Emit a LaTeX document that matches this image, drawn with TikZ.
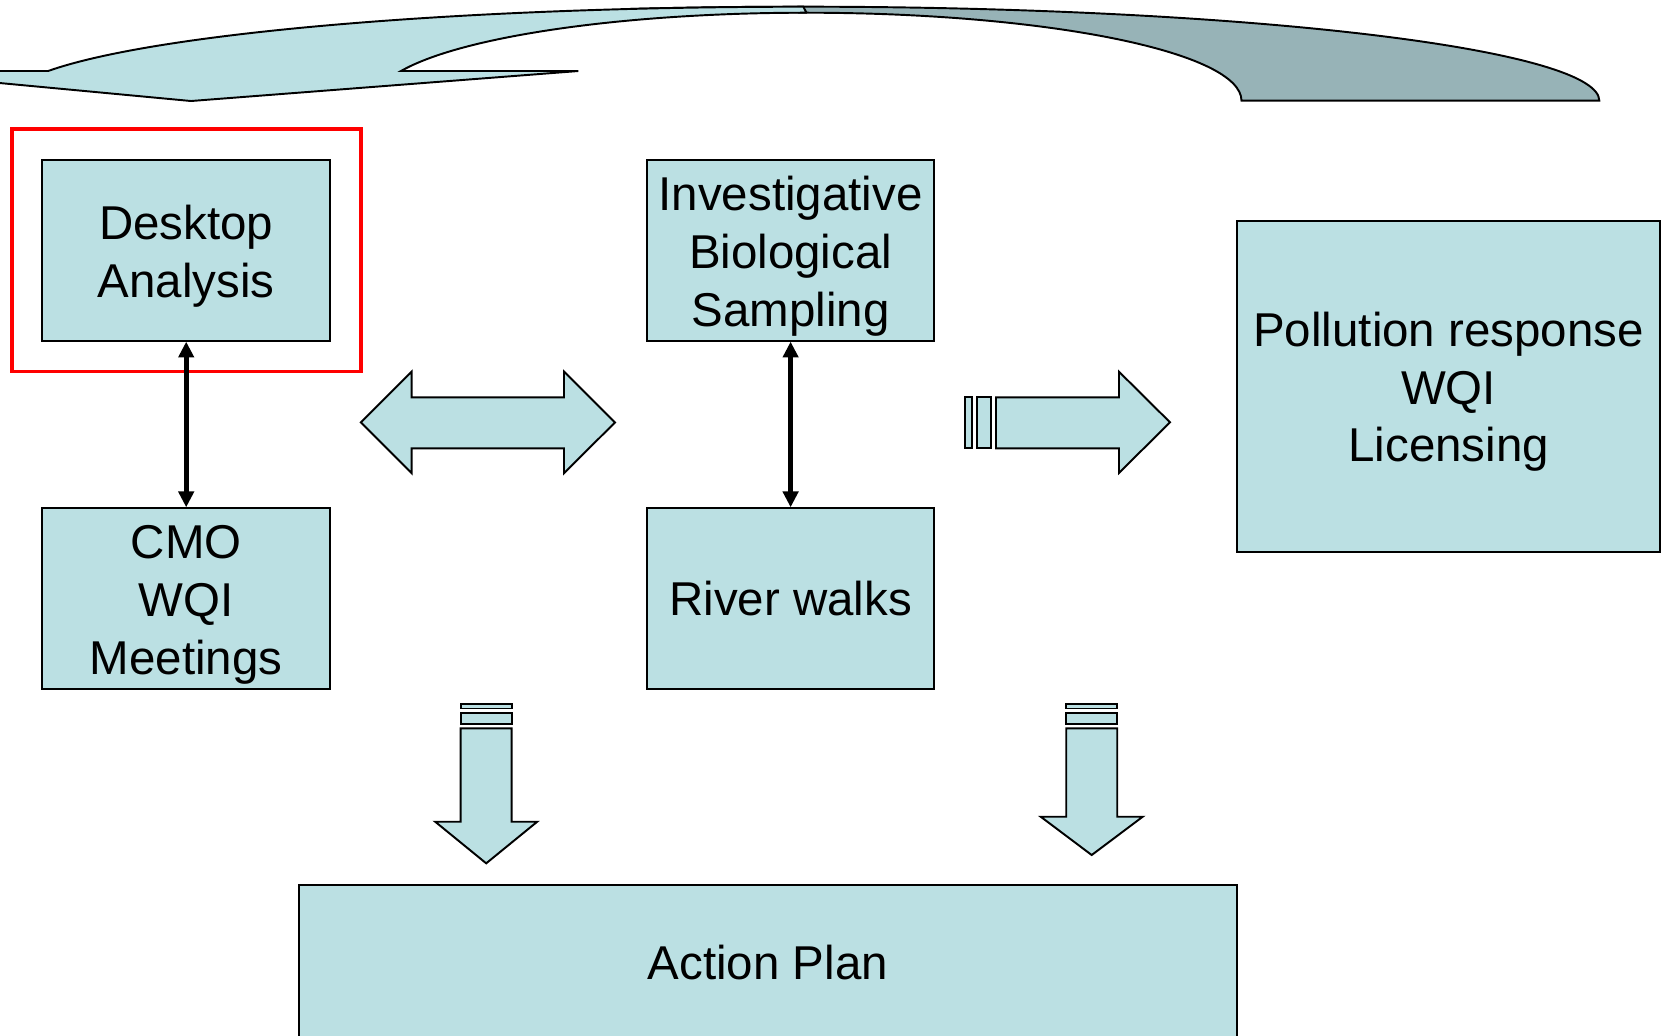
\documentclass[tikz,border=0pt]{standalone}
\usepackage{fontspec}
\setmainfont{Liberation Sans}
\usetikzlibrary{positioning}
\usetikzlibrary{arrows.meta}

\definecolor{paleblue}{HTML}{BBE0E3}
\definecolor{greyblue}{HTML}{97B3B7}

% extra room above the first line of a multi-line box
\newcommand{\padtop}{\rule{0pt}{13pt}}

\tikzset{
  box/.style={draw=black, line width=0.55pt, fill=paleblue, align=center, inner sep=0pt,
    minimum width=2.876cm, minimum height=1.804cm, font=\fontsize{13.5}{16.4}\selectfont},
  blockarrow/.style={draw=black, line width=0.55pt, fill=paleblue, line join=miter},
  link/.style={{Triangle[width=4.3pt,length=4.5pt]}-{Triangle[width=4.3pt,length=4.5pt]}, line width=1.5pt}
}

\begin{document}
\begin{tikzpicture}[x=0.01cm, y=-0.01cm]
 \useasboundingbox (0,0) rectangle (1664,1035);
 \clip (0,0) rectangle (1664,1035);

 % curved arrow on top, back half
 \draw[blockarrow, fill=greyblue] (631,8.9) arc[start angle=-102.5, end angle=0, x radius=796, y radius=94]
    -- (1241.5,100.7) arc[start angle=0, end angle=-90, x radius=435, y radius=88] -- cycle;
 % front half with the head
 \draw[blockarrow] (806.5,12.7) -- (803.3,6.7) arc[start angle=-90, end angle=-161.58, x radius=796, y radius=94]
    -- (-128,71) -- (191,101) -- (578.4,71) -- (401,71)
    arc[start angle=-160.28, end angle=-90, x radius=431, y radius=88] -- cycle;

 % boxes
 \node[draw=red, line width=1.1pt, minimum width=3.488cm, minimum height=2.421cm] (focus) at (186.4,250.4) {};
 \node[box] (desk) at (186.2,250.4) {\padtop Desktop\\Analysis};
 \node[box] (cmo) at (186.2,598.5) {\padtop CMO\\WQI\\Meetings};
 \node[box, minimum width=2.866cm] (bio) at (790.6,250.4) {\padtop Investigative\\Biological\\Sampling};
 \node[box, minimum width=2.866cm] (walks) at (790.6,598.5) {River walks};
 \node[box, minimum width=4.223cm, minimum height=3.311cm] (pollution) at (1448.6,386.3) {\padtop Pollution response\\WQI\\Licensing};
 \node[box, minimum width=9.37cm, minimum height=1.55cm] (plan) at (767.8,962.5) {Action Plan};

 % links
 \draw[link] (desk) -- (cmo);
 \draw[link] (bio) -- (walks);

 % double arrow
 \draw[blockarrow] (360.8,422.4) -- (411.7,371.6) -- (411.7,397.3) -- (564,397.3) -- (564,371.6)
    -- (615,422.4) -- (564,473.2) -- (564,448.3) -- (411.7,448.3) -- (411.7,473.2) -- cycle;

 % striped arrow to the right
 \foreach \a/\b in {965/971.7, 976.7/990.7}
   \draw[blockarrow] (\a,397.3) rectangle (\b,448.3);
 \draw[blockarrow] (996,397.3) -- (1119,397.3) -- (1119,371.7) -- (1170,422.3) -- (1119,472.9)
    -- (1119,448.3) -- (996,448.3) -- cycle;

 % striped arrows down
 \foreach \cx/\hb/\tp in {486.2/821.7/863.3, 1091.7/816.7/855} {
   \draw[blockarrow] (\cx-25.5,704) rectangle (\cx+25.5,708.5);
   \draw[blockarrow] (\cx-25.5,713.3) rectangle (\cx+25.5,723.7);
   \draw[blockarrow] (\cx-25.5,728.3) -- (\cx+25.5,728.3) -- (\cx+25.5,\hb) -- (\cx+51,\hb)
      -- (\cx,\tp) -- (\cx-51,\hb) -- (\cx-25.5,\hb) -- cycle;
 }

\end{tikzpicture}
\end{document}
